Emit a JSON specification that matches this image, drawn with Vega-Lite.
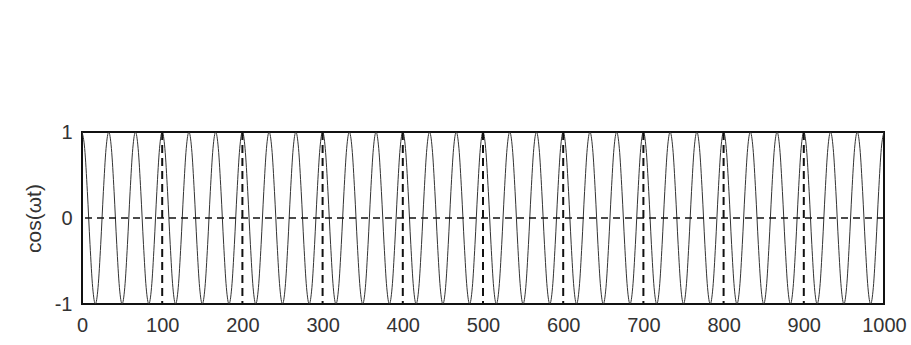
{
  "$schema": "https://vega.github.io/schema/vega-lite/v6.json",
  "autosize": {"type": "none"},
  "width": 802,
  "height": 172,
  "padding": {"left": 82, "top": 132, "right": 27, "bottom": 41},
  "background": "white",
  "config": {
    "view": {"stroke": "#111", "strokeWidth": 2},
    "axis": {"labelFont": "Liberation Sans", "titleFont": "Liberation Sans", "labelColor": "#333", "titleColor": "#333", "grid": false, "domain": false, "ticks": false, "labelOverlap": false}
  },
  "datasets": {
    "wave": [
      {"t":0,"v":1},{"t":3.33,"v":0.809},{"t":6.67,"v":0.309},{"t":10,"v":-0.309},{"t":13.33,"v":-0.809},{"t":16.67,"v":-1},{"t":20,"v":-0.809},{"t":23.33,"v":-0.309},{"t":26.67,"v":0.309},{"t":30,"v":0.809},
      {"t":33.33,"v":1},{"t":36.67,"v":0.809},{"t":40,"v":0.309},{"t":43.33,"v":-0.309},{"t":46.67,"v":-0.809},{"t":50,"v":-1},{"t":53.33,"v":-0.809},{"t":56.67,"v":-0.309},{"t":60,"v":0.309},{"t":63.33,"v":0.809},
      {"t":66.67,"v":1},{"t":70,"v":0.809},{"t":73.33,"v":0.309},{"t":76.67,"v":-0.309},{"t":80,"v":-0.809},{"t":83.33,"v":-1},{"t":86.67,"v":-0.809},{"t":90,"v":-0.309},{"t":93.33,"v":0.309},{"t":96.67,"v":0.809},
      {"t":100,"v":1},{"t":103.33,"v":0.809},{"t":106.67,"v":0.309},{"t":110,"v":-0.309},{"t":113.33,"v":-0.809},{"t":116.67,"v":-1},{"t":120,"v":-0.809},{"t":123.33,"v":-0.309},{"t":126.67,"v":0.309},{"t":130,"v":0.809},
      {"t":133.33,"v":1},{"t":136.67,"v":0.809},{"t":140,"v":0.309},{"t":143.33,"v":-0.309},{"t":146.67,"v":-0.809},{"t":150,"v":-1},{"t":153.33,"v":-0.809},{"t":156.67,"v":-0.309},{"t":160,"v":0.309},{"t":163.33,"v":0.809},
      {"t":166.67,"v":1},{"t":170,"v":0.809},{"t":173.33,"v":0.309},{"t":176.67,"v":-0.309},{"t":180,"v":-0.809},{"t":183.33,"v":-1},{"t":186.67,"v":-0.809},{"t":190,"v":-0.309},{"t":193.33,"v":0.309},{"t":196.67,"v":0.809},
      {"t":200,"v":1},{"t":203.33,"v":0.809},{"t":206.67,"v":0.309},{"t":210,"v":-0.309},{"t":213.33,"v":-0.809},{"t":216.67,"v":-1},{"t":220,"v":-0.809},{"t":223.33,"v":-0.309},{"t":226.67,"v":0.309},{"t":230,"v":0.809},
      {"t":233.33,"v":1},{"t":236.67,"v":0.809},{"t":240,"v":0.309},{"t":243.33,"v":-0.309},{"t":246.67,"v":-0.809},{"t":250,"v":-1},{"t":253.33,"v":-0.809},{"t":256.67,"v":-0.309},{"t":260,"v":0.309},{"t":263.33,"v":0.809},
      {"t":266.67,"v":1},{"t":270,"v":0.809},{"t":273.33,"v":0.309},{"t":276.67,"v":-0.309},{"t":280,"v":-0.809},{"t":283.33,"v":-1},{"t":286.67,"v":-0.809},{"t":290,"v":-0.309},{"t":293.33,"v":0.309},{"t":296.67,"v":0.809},
      {"t":300,"v":1},{"t":303.33,"v":0.809},{"t":306.67,"v":0.309},{"t":310,"v":-0.309},{"t":313.33,"v":-0.809},{"t":316.67,"v":-1},{"t":320,"v":-0.809},{"t":323.33,"v":-0.309},{"t":326.67,"v":0.309},{"t":330,"v":0.809},
      {"t":333.33,"v":1},{"t":336.67,"v":0.809},{"t":340,"v":0.309},{"t":343.33,"v":-0.309},{"t":346.67,"v":-0.809},{"t":350,"v":-1},{"t":353.33,"v":-0.809},{"t":356.67,"v":-0.309},{"t":360,"v":0.309},{"t":363.33,"v":0.809},
      {"t":366.67,"v":1},{"t":370,"v":0.809},{"t":373.33,"v":0.309},{"t":376.67,"v":-0.309},{"t":380,"v":-0.809},{"t":383.33,"v":-1},{"t":386.67,"v":-0.809},{"t":390,"v":-0.309},{"t":393.33,"v":0.309},{"t":396.67,"v":0.809},
      {"t":400,"v":1},{"t":403.33,"v":0.809},{"t":406.67,"v":0.309},{"t":410,"v":-0.309},{"t":413.33,"v":-0.809},{"t":416.67,"v":-1},{"t":420,"v":-0.809},{"t":423.33,"v":-0.309},{"t":426.67,"v":0.309},{"t":430,"v":0.809},
      {"t":433.33,"v":1},{"t":436.67,"v":0.809},{"t":440,"v":0.309},{"t":443.33,"v":-0.309},{"t":446.67,"v":-0.809},{"t":450,"v":-1},{"t":453.33,"v":-0.809},{"t":456.67,"v":-0.309},{"t":460,"v":0.309},{"t":463.33,"v":0.809},
      {"t":466.67,"v":1},{"t":470,"v":0.809},{"t":473.33,"v":0.309},{"t":476.67,"v":-0.309},{"t":480,"v":-0.809},{"t":483.33,"v":-1},{"t":486.67,"v":-0.809},{"t":490,"v":-0.309},{"t":493.33,"v":0.309},{"t":496.67,"v":0.809},
      {"t":500,"v":1},{"t":503.33,"v":0.809},{"t":506.67,"v":0.309},{"t":510,"v":-0.309},{"t":513.33,"v":-0.809},{"t":516.67,"v":-1},{"t":520,"v":-0.809},{"t":523.33,"v":-0.309},{"t":526.67,"v":0.309},{"t":530,"v":0.809},
      {"t":533.33,"v":1},{"t":536.67,"v":0.809},{"t":540,"v":0.309},{"t":543.33,"v":-0.309},{"t":546.67,"v":-0.809},{"t":550,"v":-1},{"t":553.33,"v":-0.809},{"t":556.67,"v":-0.309},{"t":560,"v":0.309},{"t":563.33,"v":0.809},
      {"t":566.67,"v":1},{"t":570,"v":0.809},{"t":573.33,"v":0.309},{"t":576.67,"v":-0.309},{"t":580,"v":-0.809},{"t":583.33,"v":-1},{"t":586.67,"v":-0.809},{"t":590,"v":-0.309},{"t":593.33,"v":0.309},{"t":596.67,"v":0.809},
      {"t":600,"v":1},{"t":603.33,"v":0.809},{"t":606.67,"v":0.309},{"t":610,"v":-0.309},{"t":613.33,"v":-0.809},{"t":616.67,"v":-1},{"t":620,"v":-0.809},{"t":623.33,"v":-0.309},{"t":626.67,"v":0.309},{"t":630,"v":0.809},
      {"t":633.33,"v":1},{"t":636.67,"v":0.809},{"t":640,"v":0.309},{"t":643.33,"v":-0.309},{"t":646.67,"v":-0.809},{"t":650,"v":-1},{"t":653.33,"v":-0.809},{"t":656.67,"v":-0.309},{"t":660,"v":0.309},{"t":663.33,"v":0.809},
      {"t":666.67,"v":1},{"t":670,"v":0.809},{"t":673.33,"v":0.309},{"t":676.67,"v":-0.309},{"t":680,"v":-0.809},{"t":683.33,"v":-1},{"t":686.67,"v":-0.809},{"t":690,"v":-0.309},{"t":693.33,"v":0.309},{"t":696.67,"v":0.809},
      {"t":700,"v":1},{"t":703.33,"v":0.809},{"t":706.67,"v":0.309},{"t":710,"v":-0.309},{"t":713.33,"v":-0.809},{"t":716.67,"v":-1},{"t":720,"v":-0.809},{"t":723.33,"v":-0.309},{"t":726.67,"v":0.309},{"t":730,"v":0.809},
      {"t":733.33,"v":1},{"t":736.67,"v":0.809},{"t":740,"v":0.309},{"t":743.33,"v":-0.309},{"t":746.67,"v":-0.809},{"t":750,"v":-1},{"t":753.33,"v":-0.809},{"t":756.67,"v":-0.309},{"t":760,"v":0.309},{"t":763.33,"v":0.809},
      {"t":766.67,"v":1},{"t":770,"v":0.809},{"t":773.33,"v":0.309},{"t":776.67,"v":-0.309},{"t":780,"v":-0.809},{"t":783.33,"v":-1},{"t":786.67,"v":-0.809},{"t":790,"v":-0.309},{"t":793.33,"v":0.309},{"t":796.67,"v":0.809},
      {"t":800,"v":1},{"t":803.33,"v":0.809},{"t":806.67,"v":0.309},{"t":810,"v":-0.309},{"t":813.33,"v":-0.809},{"t":816.67,"v":-1},{"t":820,"v":-0.809},{"t":823.33,"v":-0.309},{"t":826.67,"v":0.309},{"t":830,"v":0.809},
      {"t":833.33,"v":1},{"t":836.67,"v":0.809},{"t":840,"v":0.309},{"t":843.33,"v":-0.309},{"t":846.67,"v":-0.809},{"t":850,"v":-1},{"t":853.33,"v":-0.809},{"t":856.67,"v":-0.309},{"t":860,"v":0.309},{"t":863.33,"v":0.809},
      {"t":866.67,"v":1},{"t":870,"v":0.809},{"t":873.33,"v":0.309},{"t":876.67,"v":-0.309},{"t":880,"v":-0.809},{"t":883.33,"v":-1},{"t":886.67,"v":-0.809},{"t":890,"v":-0.309},{"t":893.33,"v":0.309},{"t":896.67,"v":0.809},
      {"t":900,"v":1},{"t":903.33,"v":0.809},{"t":906.67,"v":0.309},{"t":910,"v":-0.309},{"t":913.33,"v":-0.809},{"t":916.67,"v":-1},{"t":920,"v":-0.809},{"t":923.33,"v":-0.309},{"t":926.67,"v":0.309},{"t":930,"v":0.809},
      {"t":933.33,"v":1},{"t":936.67,"v":0.809},{"t":940,"v":0.309},{"t":943.33,"v":-0.309},{"t":946.67,"v":-0.809},{"t":950,"v":-1},{"t":953.33,"v":-0.809},{"t":956.67,"v":-0.309},{"t":960,"v":0.309},{"t":963.33,"v":0.809},
      {"t":966.67,"v":1},{"t":970,"v":0.809},{"t":973.33,"v":0.309},{"t":976.67,"v":-0.309},{"t":980,"v":-0.809},{"t":983.33,"v":-1},{"t":986.67,"v":-0.809},{"t":990,"v":-0.309},{"t":993.33,"v":0.309},{"t":996.67,"v":0.809},
      {"t":1000,"v":1}
    ],
    "samples": [
      {"t":100},{"t":200},{"t":300},{"t":400},{"t":500},{"t":600},{"t":700},{"t":800},{"t":900}
    ]
  },
  "layer": [
    {
      "data": {"name": "wave"},
      "mark": {"type": "line", "interpolate": "monotone", "stroke": "#333", "strokeWidth": 1, "clip": true},
      "encoding": {
        "x": {"field": "t", "type": "quantitative", "scale": {"domain": [0, 1000], "nice": false, "zero": false},
              "axis": {"values": [0,100,200,300,400,500,600,700,800,900,1000], "format": "d", "title": null, "labelFontSize": 20, "labelPadding": 11, "labelFlush": false}},
        "y": {"field": "v", "type": "quantitative", "scale": {"domain": [-1, 1], "nice": false},
              "axis": {"values": [-1, 0, 1], "labelExpr": "datum.value > 0.5 ? '1' : (datum.value < -0.5 ? '-1' : '0')", "title": "cos(ωt)", "labelFontSize": 20, "labelPadding": 10, "labelFlush": false, "titleFontSize": 21, "titleFontWeight": "normal", "titlePadding": 10}}
      }
    },
    {
      "data": {"name": "samples"},
      "mark": {"type": "rule", "stroke": "#111", "strokeWidth": 2, "strokeDash": [8, 5]},
      "encoding": {"x": {"field": "t", "type": "quantitative"}}
    },
    {
      "data": {"values": [{"v": 0}]},
      "mark": {"type": "rule", "stroke": "#111", "strokeWidth": 1.5, "strokeDash": [7, 5]},
      "encoding": {"y": {"field": "v", "type": "quantitative"}}
    }
  ]
}
